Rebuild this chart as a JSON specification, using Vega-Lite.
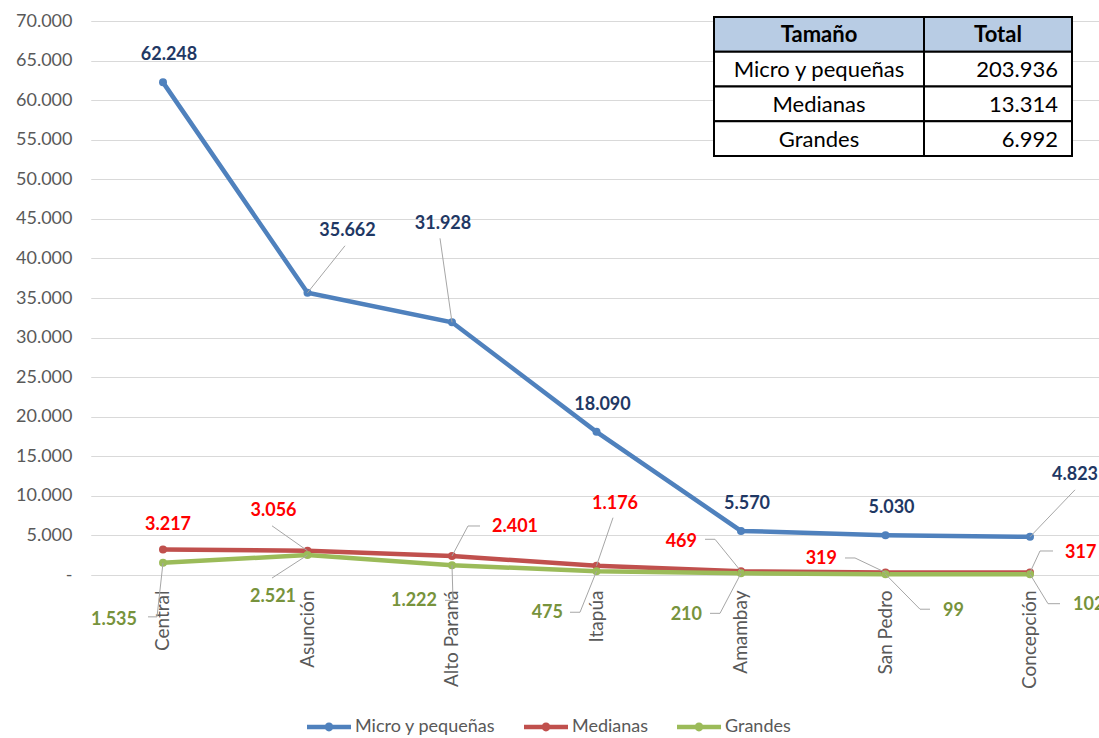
{
  "$schema": "https://vega.github.io/schema/vega-lite/v6.json",
  "width": 1007,
  "height": 554,
  "autosize": {"type": "none"},
  "padding": {"left": 92, "top": 21, "right": 0, "bottom": 163},
  "background": "white",
  "config": {
    "view": {"stroke": null},
    "font": "Lato",
    "locale": {"number": {"decimal": ",", "thousands": ".", "grouping": [3], "currency": ["", ""]}}
  },
  "datasets": {
    "datos": [
      {"region": "Central", "serie": "Micro y pequeñas", "valor": 62248},
      {"region": "Asunción", "serie": "Micro y pequeñas", "valor": 35662},
      {"region": "Alto Paraná", "serie": "Micro y pequeñas", "valor": 31928},
      {"region": "Itapúa", "serie": "Micro y pequeñas", "valor": 18090},
      {"region": "Amambay", "serie": "Micro y pequeñas", "valor": 5570},
      {"region": "San Pedro", "serie": "Micro y pequeñas", "valor": 5030},
      {"region": "Concepción", "serie": "Micro y pequeñas", "valor": 4823},
      {"region": "Central", "serie": "Medianas", "valor": 3217},
      {"region": "Asunción", "serie": "Medianas", "valor": 3056},
      {"region": "Alto Paraná", "serie": "Medianas", "valor": 2401},
      {"region": "Itapúa", "serie": "Medianas", "valor": 1176},
      {"region": "Amambay", "serie": "Medianas", "valor": 469},
      {"region": "San Pedro", "serie": "Medianas", "valor": 319},
      {"region": "Concepción", "serie": "Medianas", "valor": 317},
      {"region": "Central", "serie": "Grandes", "valor": 1535},
      {"region": "Asunción", "serie": "Grandes", "valor": 2521},
      {"region": "Alto Paraná", "serie": "Grandes", "valor": 1222},
      {"region": "Itapúa", "serie": "Grandes", "valor": 475},
      {"region": "Amambay", "serie": "Grandes", "valor": 210},
      {"region": "San Pedro", "serie": "Grandes", "valor": 99},
      {"region": "Concepción", "serie": "Grandes", "valor": 102}
    ],
    "tabla": [
      {"fila": "Encabezado", "col": "Tamaño", "texto": "Tamaño"},
      {"fila": "Encabezado", "col": "Total", "texto": "Total"},
      {"fila": "Micro y pequeñas", "col": "Tamaño", "texto": "Micro y pequeñas"},
      {"fila": "Micro y pequeñas", "col": "Total", "texto": "203.936"},
      {"fila": "Medianas", "col": "Tamaño", "texto": "Medianas"},
      {"fila": "Medianas", "col": "Total", "texto": "13.314"},
      {"fila": "Grandes", "col": "Tamaño", "texto": "Grandes"},
      {"fila": "Grandes", "col": "Total", "texto": "6.992"}
    ]
  },
  "resolve": {"scale": {"x": "independent", "y": "independent"}},
  "layer": [
    {
      "data": {"name": "datos"},
      "encoding": {
        "x": {
          "field": "region", "type": "nominal",
          "scale": {"domain": ["Central", "Asunción", "Alto Paraná", "Itapúa", "Amambay", "San Pedro", "Concepción"], "range": [-1.25, 1010.25], "padding": 0},
          "axis": {"title": null, "domain": false, "ticks": false, "tickSize": 0, "grid": false, "labelAngle": -90, "labelAlign": "right", "labelBaseline": "middle", "labelPadding": 15, "labelFontSize": 19, "labelColor": "#595959", "labelFont": "Lato"}
        },
        "y": {
          "field": "valor", "type": "quantitative",
          "scale": {"domain": [0, 70000], "nice": false, "zero": true},
          "axis": {"title": null, "domain": false, "ticks": false, "tickSize": 0, "grid": true, "gridColor": "#d9d9d9", "gridWidth": 1,
                   "values": [0, 5000, 10000, 15000, 20000, 25000, 30000, 35000, 40000, 45000, 50000, 55000, 60000, 65000, 70000],
                   "format": ",.0f", "labelExpr": "datum.value == 0 ? '-\u2007\u2009' : datum.label",
                   "labelPadding": 20,
                   "labelFontSize": 18, "labelColor": "#595959", "labelFont": "Lato"}
        }
      },
      "layer": [
        {
          "mark": {"type": "line", "strokeWidth": 4.5, "point": {"filled": true, "size": 64}},
          "encoding": {
            "color": {
              "field": "serie", "type": "nominal",
              "scale": {"domain": ["Micro y pequeñas", "Medianas", "Grandes"], "range": ["#4f81bd", "#c0504d", "#9bbb59"]},
              "legend": {
                "orient": "none", "legendX": 215, "legendY": 684, "direction": "horizontal", "title": null,
                "symbolType": "M-1,-0.1L1,-0.1L1,0.1L-1,0.1Z M-0.2,0A0.2,0.2 0 1,1 0.2,0A0.2,0.2 0 1,1 -0.2,0Z",
                "symbolSize": 1936, "symbolStrokeWidth": 0,
                "labelFontSize": 18, "labelColor": "#595959", "labelFont": "Lato", "labelOffset": 4, "columnPadding": 28,
                "encode": {"symbols": {"update": {"fill": {"scale": "color", "field": "value"}, "opacity": {"value": 1}}}}
              }
            }
          }
        },
        {
          "transform": [{"filter": "datum.serie == 'Micro y pequeñas' && indexof(['Central','Itapúa','Amambay','San Pedro'], datum.region) >= 0"}],
          "mark": {"type": "text", "dx": 6, "dy": -27, "align": "center", "baseline": "middle", "fontSize": 18, "fontWeight": "bold", "color": "#1f3864"},
          "encoding": {"text": {"field": "valor", "type": "quantitative", "format": ",.0f"}}
        },
        {
          "transform": [{"filter": "datum.serie == 'Micro y pequeñas' && datum.region == 'Asunción'"}],
          "layer": [
            {"mark": {"type": "rule", "color": "#a6a6a6", "strokeWidth": 1, "x2Offset": 37.5, "y2Offset": -47}, "encoding": {"x2": {"field": "region"}, "y2": {"field": "valor"}}},
            {"mark": {"type": "text", "dx": 40, "dy": -62, "align": "center", "baseline": "middle", "fontSize": 18, "fontWeight": "bold", "color": "#1f3864"}, "encoding": {"text": {"field": "valor", "type": "quantitative", "format": ",.0f"}}}
          ]
        },
        {
          "transform": [{"filter": "datum.serie == 'Micro y pequeñas' && datum.region == 'Alto Paraná'"}],
          "layer": [
            {"mark": {"type": "rule", "color": "#a6a6a6", "strokeWidth": 1, "x2Offset": -12, "y2Offset": -84}, "encoding": {"x2": {"field": "region"}, "y2": {"field": "valor"}}},
            {"mark": {"type": "text", "dx": -9, "dy": -98, "align": "center", "baseline": "middle", "fontSize": 18, "fontWeight": "bold", "color": "#1f3864"}, "encoding": {"text": {"field": "valor", "type": "quantitative", "format": ",.0f"}}}
          ]
        },
        {
          "transform": [{"filter": "datum.serie == 'Micro y pequeñas' && datum.region == 'Concepción'"}],
          "layer": [
            {"mark": {"type": "rule", "color": "#a6a6a6", "strokeWidth": 1, "x2Offset": 45, "y2Offset": -47}, "encoding": {"x2": {"field": "region"}, "y2": {"field": "valor"}}},
            {"mark": {"type": "text", "dx": 22, "dy": -62, "align": "left", "baseline": "middle", "fontSize": 18, "fontWeight": "bold", "color": "#1f3864"}, "encoding": {"text": {"field": "valor", "type": "quantitative", "format": ",.0f"}}}
          ]
        },
        {
          "transform": [{"filter": "datum.serie == 'Medianas' && datum.region == 'Central'"}],
          "mark": {"type": "text", "dx": 5, "dy": -25, "align": "center", "baseline": "middle", "fontSize": 18, "fontWeight": "bold", "color": "#ff0000"},
          "encoding": {"text": {"field": "valor", "type": "quantitative", "format": ",.0f"}}
        },
        {
          "transform": [{"filter": "datum.serie == 'Medianas' && datum.region == 'Asunción'"}],
          "layer": [
            {"mark": {"type": "rule", "color": "#a6a6a6", "strokeWidth": 1, "x2Offset": -35.5, "y2Offset": -25}, "encoding": {"x2": {"field": "region"}, "y2": {"field": "valor"}}},
            {"mark": {"type": "text", "dx": -34, "dy": -40, "align": "center", "baseline": "middle", "fontSize": 18, "fontWeight": "bold", "color": "#ff0000"}, "encoding": {"text": {"field": "valor", "type": "quantitative", "format": ",.0f"}}}
          ]
        },
        {
          "transform": [{"filter": "datum.serie == 'Medianas' && datum.region == 'Alto Paraná'"}],
          "layer": [
            {"mark": {"type": "rule", "color": "#a6a6a6", "strokeWidth": 1, "x2Offset": 16, "y2Offset": -30}, "encoding": {"x2": {"field": "region"}, "y2": {"field": "valor"}}},
            {"mark": {"type": "rule", "color": "#a6a6a6", "strokeWidth": 1, "xOffset": 16, "yOffset": -30, "x2Offset": 28, "y2Offset": -30}, "encoding": {"x2": {"field": "region"}, "y2": {"field": "valor"}}},
            {"mark": {"type": "text", "dx": 40, "dy": -29, "align": "left", "baseline": "middle", "fontSize": 18, "fontWeight": "bold", "color": "#ff0000"}, "encoding": {"text": {"field": "valor", "type": "quantitative", "format": ",.0f"}}}
          ]
        },
        {
          "transform": [{"filter": "datum.serie == 'Medianas' && datum.region == 'Itapúa'"}],
          "layer": [
            {"mark": {"type": "rule", "color": "#a6a6a6", "strokeWidth": 1, "x2Offset": 16.5, "y2Offset": -48}, "encoding": {"x2": {"field": "region"}, "y2": {"field": "valor"}}},
            {"mark": {"type": "text", "dx": 18.5, "dy": -62, "align": "center", "baseline": "middle", "fontSize": 18, "fontWeight": "bold", "color": "#ff0000"}, "encoding": {"text": {"field": "valor", "type": "quantitative", "format": ",.0f"}}}
          ]
        },
        {
          "transform": [{"filter": "datum.serie == 'Medianas' && datum.region == 'Amambay'"}],
          "layer": [
            {"mark": {"type": "rule", "color": "#a6a6a6", "strokeWidth": 1, "x2Offset": -26, "y2Offset": -32}, "encoding": {"x2": {"field": "region"}, "y2": {"field": "valor"}}},
            {"mark": {"type": "rule", "color": "#a6a6a6", "strokeWidth": 1, "xOffset": -26, "yOffset": -32, "x2Offset": -36, "y2Offset": -32}, "encoding": {"x2": {"field": "region"}, "y2": {"field": "valor"}}},
            {"mark": {"type": "text", "dx": -44, "dy": -29, "align": "right", "baseline": "middle", "fontSize": 18, "fontWeight": "bold", "color": "#ff0000"}, "encoding": {"text": {"field": "valor", "type": "quantitative", "format": ",.0f"}}}
          ]
        },
        {
          "transform": [{"filter": "datum.serie == 'Medianas' && datum.region == 'San Pedro'"}],
          "layer": [
            {"mark": {"type": "rule", "color": "#a6a6a6", "strokeWidth": 1, "x2Offset": -30.5, "y2Offset": -14.5}, "encoding": {"x2": {"field": "region"}, "y2": {"field": "valor"}}},
            {"mark": {"type": "rule", "color": "#a6a6a6", "strokeWidth": 1, "xOffset": -30.5, "yOffset": -14.5, "x2Offset": -40.5, "y2Offset": -14.5}, "encoding": {"x2": {"field": "region"}, "y2": {"field": "valor"}}},
            {"mark": {"type": "text", "dx": -48.5, "dy": -13.5, "align": "right", "baseline": "middle", "fontSize": 18, "fontWeight": "bold", "color": "#ff0000"}, "encoding": {"text": {"field": "valor", "type": "quantitative", "format": ",.0f"}}}
          ]
        },
        {
          "transform": [{"filter": "datum.serie == 'Medianas' && datum.region == 'Concepción'"}],
          "layer": [
            {"mark": {"type": "rule", "color": "#a6a6a6", "strokeWidth": 1, "x2Offset": 10, "y2Offset": -21.5}, "encoding": {"x2": {"field": "region"}, "y2": {"field": "valor"}}},
            {"mark": {"type": "rule", "color": "#a6a6a6", "strokeWidth": 1, "xOffset": 10, "yOffset": -21.5, "x2Offset": 23, "y2Offset": -21.5}, "encoding": {"x2": {"field": "region"}, "y2": {"field": "valor"}}},
            {"mark": {"type": "text", "dx": 35, "dy": -19.5, "align": "left", "baseline": "middle", "fontSize": 18, "fontWeight": "bold", "color": "#ff0000"}, "encoding": {"text": {"field": "valor", "type": "quantitative", "format": ",.0f"}}}
          ]
        },
        {
          "transform": [{"filter": "datum.serie == 'Grandes' && datum.region == 'Central'"}],
          "layer": [
            {"mark": {"type": "rule", "color": "#a6a6a6", "strokeWidth": 1, "x2Offset": -6, "y2Offset": 54}, "encoding": {"x2": {"field": "region"}, "y2": {"field": "valor"}}},
            {"mark": {"type": "rule", "color": "#a6a6a6", "strokeWidth": 1, "xOffset": -6, "yOffset": 54, "x2Offset": -15, "y2Offset": 54}, "encoding": {"x2": {"field": "region"}, "y2": {"field": "valor"}}},
            {"mark": {"type": "text", "dx": -26, "dy": 57, "align": "right", "baseline": "middle", "fontSize": 18, "fontWeight": "bold", "color": "#77933c"}, "encoding": {"text": {"field": "valor", "type": "quantitative", "format": ",.0f"}}}
          ]
        },
        {
          "transform": [{"filter": "datum.serie == 'Grandes' && datum.region == 'Asunción'"}],
          "layer": [
            {"mark": {"type": "rule", "color": "#a6a6a6", "strokeWidth": 1, "x2Offset": -35.5, "y2Offset": 23}, "encoding": {"x2": {"field": "region"}, "y2": {"field": "valor"}}},
            {"mark": {"type": "text", "dx": -34.5, "dy": 42, "align": "center", "baseline": "middle", "fontSize": 18, "fontWeight": "bold", "color": "#77933c"}, "encoding": {"text": {"field": "valor", "type": "quantitative", "format": ",.0f"}}}
          ]
        },
        {
          "transform": [{"filter": "datum.serie == 'Grandes' && datum.region == 'Alto Paraná'"}],
          "layer": [
            {"mark": {"type": "rule", "color": "#a6a6a6", "strokeWidth": 1, "x2Offset": 1, "y2Offset": 35}, "encoding": {"x2": {"field": "region"}, "y2": {"field": "valor"}}},
            {"mark": {"type": "rule", "color": "#a6a6a6", "strokeWidth": 1, "xOffset": 1, "yOffset": 35, "x2Offset": -7, "y2Offset": 35}, "encoding": {"x2": {"field": "region"}, "y2": {"field": "valor"}}},
            {"mark": {"type": "text", "dx": -15, "dy": 36, "align": "right", "baseline": "middle", "fontSize": 18, "fontWeight": "bold", "color": "#77933c"}, "encoding": {"text": {"field": "valor", "type": "quantitative", "format": ",.0f"}}}
          ]
        },
        {
          "transform": [{"filter": "datum.serie == 'Grandes' && datum.region == 'Itapúa'"}],
          "layer": [
            {"mark": {"type": "rule", "color": "#a6a6a6", "strokeWidth": 1, "x2Offset": -16.5, "y2Offset": 41}, "encoding": {"x2": {"field": "region"}, "y2": {"field": "valor"}}},
            {"mark": {"type": "rule", "color": "#a6a6a6", "strokeWidth": 1, "xOffset": -16.5, "yOffset": 41, "x2Offset": -26.5, "y2Offset": 41}, "encoding": {"x2": {"field": "region"}, "y2": {"field": "valor"}}},
            {"mark": {"type": "text", "dx": -33.5, "dy": 42, "align": "right", "baseline": "middle", "fontSize": 18, "fontWeight": "bold", "color": "#77933c"}, "encoding": {"text": {"field": "valor", "type": "quantitative", "format": ",.0f"}}}
          ]
        },
        {
          "transform": [{"filter": "datum.serie == 'Grandes' && datum.region == 'Amambay'"}],
          "layer": [
            {"mark": {"type": "rule", "color": "#a6a6a6", "strokeWidth": 1, "x2Offset": -21, "y2Offset": 40}, "encoding": {"x2": {"field": "region"}, "y2": {"field": "valor"}}},
            {"mark": {"type": "rule", "color": "#a6a6a6", "strokeWidth": 1, "xOffset": -21, "yOffset": 40, "x2Offset": -31, "y2Offset": 40}, "encoding": {"x2": {"field": "region"}, "y2": {"field": "valor"}}},
            {"mark": {"type": "text", "dx": -39, "dy": 42, "align": "right", "baseline": "middle", "fontSize": 18, "fontWeight": "bold", "color": "#77933c"}, "encoding": {"text": {"field": "valor", "type": "quantitative", "format": ",.0f"}}}
          ]
        },
        {
          "transform": [{"filter": "datum.serie == 'Grandes' && datum.region == 'San Pedro'"}],
          "layer": [
            {"mark": {"type": "rule", "color": "#a6a6a6", "strokeWidth": 1, "x2Offset": 34.5, "y2Offset": 35}, "encoding": {"x2": {"field": "region"}, "y2": {"field": "valor"}}},
            {"mark": {"type": "rule", "color": "#a6a6a6", "strokeWidth": 1, "xOffset": 34.5, "yOffset": 35, "x2Offset": 44.5, "y2Offset": 35}, "encoding": {"x2": {"field": "region"}, "y2": {"field": "valor"}}},
            {"mark": {"type": "text", "dx": 57.5, "dy": 37, "align": "left", "baseline": "middle", "fontSize": 18, "fontWeight": "bold", "color": "#77933c"}, "encoding": {"text": {"field": "valor", "type": "quantitative", "format": ",.0f"}}}
          ]
        },
        {
          "transform": [{"filter": "datum.serie == 'Grandes' && datum.region == 'Concepción'"}],
          "layer": [
            {"mark": {"type": "rule", "color": "#a6a6a6", "strokeWidth": 1, "x2Offset": 18, "y2Offset": 29.5}, "encoding": {"x2": {"field": "region"}, "y2": {"field": "valor"}}},
            {"mark": {"type": "rule", "color": "#a6a6a6", "strokeWidth": 1, "xOffset": 18, "yOffset": 29.5, "x2Offset": 30, "y2Offset": 29.5}, "encoding": {"x2": {"field": "region"}, "y2": {"field": "valor"}}},
            {"mark": {"type": "text", "dx": 43, "dy": 31, "align": "left", "baseline": "middle", "fontSize": 18, "fontWeight": "bold", "color": "#77933c"}, "encoding": {"text": {"field": "valor", "type": "quantitative", "format": ",.0f"}}}
          ]
        }
      ]
    },
    {
      "data": {"name": "tabla"},
      "encoding": {
        "x": {"field": "col", "type": "nominal", "axis": null, "scale": {"domain": ["Tamaño", "Total"], "range": [637.5, 995.5], "paddingInner": 0, "paddingOuter": 0}},
        "y": {"field": "fila", "type": "nominal", "axis": null, "scale": {"domain": ["Encabezado", "Micro y pequeñas", "Medianas", "Grandes"], "range": [-4, 135], "paddingInner": 0, "paddingOuter": 0}}
      },
      "layer": [
        {
          "transform": [{"filter": "datum.col == 'Tamaño'"}],
          "mark": {"type": "rect", "width": 210, "stroke": "black", "strokeWidth": 2},
          "encoding": {"fill": {"condition": {"test": "datum.fila == 'Encabezado'", "value": "#b8cce4"}, "value": "white"}}
        },
        {
          "transform": [{"filter": "datum.col == 'Total'"}],
          "mark": {"type": "rect", "width": 148, "stroke": "black", "strokeWidth": 2},
          "encoding": {"fill": {"condition": {"test": "datum.fila == 'Encabezado'", "value": "#b8cce4"}, "value": "white"}}
        },
        {
          "transform": [{"filter": "datum.fila == 'Encabezado'"}],
          "mark": {"type": "text", "align": "center", "baseline": "middle", "fontSize": 22, "fontWeight": "bold", "color": "black", "dy": 1},
          "encoding": {"text": {"field": "texto"}}
        },
        {
          "transform": [{"filter": "datum.fila != 'Encabezado' && datum.col == 'Tamaño'"}],
          "mark": {"type": "text", "align": "center", "baseline": "middle", "fontSize": 22, "color": "black", "dy": 1},
          "encoding": {"text": {"field": "texto"}}
        },
        {
          "transform": [{"filter": "datum.fila != 'Encabezado' && datum.col == 'Total'"}],
          "mark": {"type": "text", "align": "right", "baseline": "middle", "fontSize": 22, "color": "black", "dx": 60, "dy": 1},
          "encoding": {"text": {"field": "texto"}}
        }
      ]
    }
  ]
}
